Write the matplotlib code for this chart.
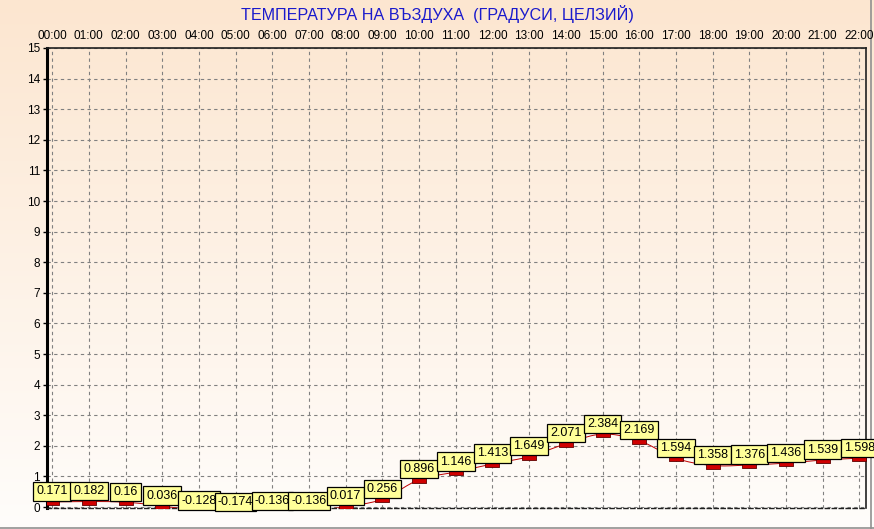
import numpy as np
import matplotlib
matplotlib.use("Agg")
import matplotlib.pyplot as plt
from matplotlib.path import Path

hours = ["00:00", "01:00", "02:00", "03:00", "04:00", "05:00", "06:00", "07:00",
         "08:00", "09:00", "10:00", "11:00", "12:00", "13:00", "14:00", "15:00",
         "16:00", "17:00", "18:00", "19:00", "20:00", "21:00", "22:00"]
temps = [0.171, 0.182, 0.16, 0.036, -0.128, -0.174, -0.136, -0.136, 0.017, 0.256,
         0.896, 1.146, 1.413, 1.649, 2.071, 2.384, 2.169, 1.594, 1.358, 1.376,
         1.436, 1.539, 1.598]
yticks = list(range(0, 16))
title = "ТЕМПЕРАТУРА НА ВЪЗДУХА  (ГРАДУСИ, ЦЕЛЗИЙ)"

plt.rcParams['font.family'] = ['Liberation Sans', 'DejaVu Sans']

W, H = 874, 529
fig = plt.figure(figsize=(W / 100, H / 100), dpi=100)

# background gradient
bg = fig.add_axes([0, 0, 1, 1])
top = np.array([252, 230, 208]) / 255.0
bot = np.array([255, 253, 251]) / 255.0
t = np.linspace(0, 1, 256)[:, None]
grad = top[None, :] * (1 - t) + bot[None, :] * t
img = np.repeat(grad[:, None, :], 2, axis=1)
bg.imshow(img, aspect='auto', extent=[0, 1, 0, 1], origin='upper')
bg.plot([0, 1], [1.5 / H, 1.5 / H], color='#909090', lw=1.2)
bg.plot([1 - 3.5 / W, 1 - 3.5 / W], [0, 1], color='#909090', lw=1.2)
bg.set_xlim(0, 1); bg.set_ylim(0, 1)
bg.axis('off')

# main axes
l, r, tp, b = 47, 866, 48, 508
ax = fig.add_axes([l / W, 1 - b / H, (r - l) / W, (b - tp) / H])
ax.patch.set_alpha(0)

x = np.arange(len(temps))
ax.set_xlim(-0.14, 22.18)
ax.set_ylim(-0.03, 15)

ax.set_xticks(x)
ax.set_xticklabels(hours)
ax.xaxis.tick_top()
ax.tick_params(axis='x', length=0, pad=4, labelsize=8.5, colors='black')
ax.set_yticks(yticks)
ax.tick_params(axis='y', length=3, width=1, pad=2, labelsize=8.5, direction='out')
ax.grid(True, color='#808080', linestyle=(0, (3, 3)), lw=0.8)

for s in ['top', 'right']:
    ax.spines[s].set_color('#202020')
    ax.spines[s].set_linewidth(1.2)
ax.spines['left'].set_linewidth(2.2)
ax.spines['left'].set_color('black')
ax.spines['bottom'].set_linestyle((0, (3, 2)))
ax.spines['bottom'].set_color('#202020')
ax.spines['bottom'].set_linewidth(1.0)

# smooth curve (Catmull-Rom through the data points)
xs, ys = [], []
P = np.column_stack([x, temps]).astype(float)
Pext = np.vstack([P[0], P, P[-1]])
for i in range(1, len(Pext) - 2):
    p0, p1, p2, p3 = Pext[i - 1], Pext[i], Pext[i + 1], Pext[i + 2]
    for u in np.linspace(0, 1, 12, endpoint=False):
        pt = 0.5 * ((2 * p1) + (-p0 + p2) * u + (2 * p0 - 5 * p1 + 4 * p2 - p3) * u ** 2
                    + (-p0 + 3 * p1 - 3 * p2 + p3) * u ** 3)
        xs.append(pt[0]); ys.append(pt[1])
xs.append(P[-1, 0]); ys.append(P[-1, 1])
ax.plot(xs, ys, color='#C00000', lw=0.7, zorder=3)

rect = Path([(-1, -0.45), (1, -0.45), (1, 0.45), (-1, 0.45), (-1, -0.45)],
            [Path.MOVETO, Path.LINETO, Path.LINETO, Path.LINETO, Path.CLOSEPOLY])
ax.plot(x, temps, linestyle='none', marker=rect, markersize=10,
        markerfacecolor='#D00000', markeredgecolor='#600000', markeredgewidth=0.6, zorder=4)

for i, v in enumerate(temps):
    ax.annotate(f"{v:g}", xy=(i, v), xytext=(0, 3.2), textcoords='offset points',
                ha='center', va='bottom', fontsize=9, color='black',
                bbox=dict(boxstyle='square,pad=0.25', fc='#FFFF99', ec='black', lw=0.9),
                annotation_clip=False, zorder=5 + i)

fig.text(0.5, 1 - 14 / H, title, ha='center', va='center', fontsize=11.6, color='#1A1ACC')

fig.savefig('out.png', dpi=100)
